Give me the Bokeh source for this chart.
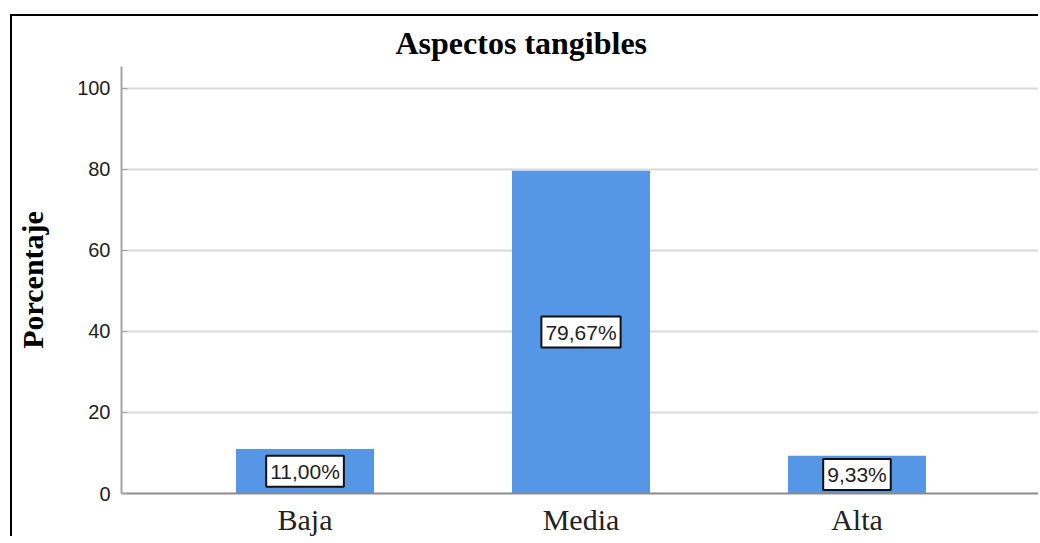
from bokeh.plotting import figure
from bokeh.models import ColumnDataSource, FactorRange, Range1d, FixedTicker
from bokeh.core.properties import value
from bokeh.embed import file_html
from bokeh.resources import INLINE

categories = ["Baja", "Media", "Alta"]
percentages = [11.00, 79.67, 9.33]
labels = ["11,00%", "79,67%", "9,33%"]
y_ticks = [0, 20, 40, 60, 80, 100]
title_text = "Aspectos tangibles"
y_label = "Porcentaje"

src = ColumnDataSource(dict(
    cat=categories,
    pct=percentages,
    mid=[v / 2 for v in percentages],
    lab=labels,
))

p = figure(
    width=1028, height=522,
    x_range=FactorRange(factors=categories, range_padding=0.11),
    y_range=Range1d(0, 105.4),
    output_backend="svg", toolbar_location=None,
    min_border_left=109, min_border_top=49, min_border_bottom=44, min_border_right=0,
    title=title_text,
)
p.styles = {"margin-left": "10px", "margin-top": "14px",
            "border-left": "2px solid black", "border-top": "2px solid black",
            "vertical-align": "top"}
p.outline_line_color = None
p.background_fill_color = "white"
p.border_fill_color = "white"

p.title.align = "left"
p.title.offset = 274
p.title.text_font = "Liberation Serif"
p.title.text_font_style = "bold"
p.title.text_font_size = "32px"
p.title.text_color = "black"
p.title.standoff = 12

p.vbar(x="cat", top="pct", width=0.5, source=src, fill_color="#5596E6", line_color=None)

p.text(
    x="cat", y="mid", text="lab", source=src,
    text_align="center", text_baseline="middle",
    text_font=value("Liberation Sans"), text_font_size="21px", text_color="#222222",
    background_fill_color="white", border_line_color="#111111", border_line_width=2,
    padding=4,
)

# grid
p.xgrid.grid_line_color = None
p.ygrid.grid_line_color = "#d9d9d9"
p.ygrid.grid_line_width = 2

# y axis
p.yaxis.ticker = FixedTicker(ticks=y_ticks)
p.yaxis.axis_line_color = "#a6a6a6"
p.yaxis.axis_line_width = 2
p.yaxis.major_tick_in = 6
p.yaxis.major_tick_out = 0
p.yaxis.major_tick_line_color = "#a6a6a6"
p.yaxis.minor_tick_line_color = None
p.yaxis.major_label_text_font = "Liberation Sans"
p.yaxis.major_label_text_font_size = "20px"
p.yaxis.major_label_text_color = "#222222"
p.yaxis.major_label_standoff = 11
p.yaxis.axis_label = y_label
p.yaxis.axis_label_text_font = "Liberation Serif"
p.yaxis.axis_label_text_font_style = "bold"
p.yaxis.axis_label_text_font_size = "30px"
p.yaxis.axis_label_text_color = "black"
p.yaxis.axis_label_standoff = 25

# x axis
p.xaxis.axis_line_color = "#8c8c8c"
p.xaxis.axis_line_width = 2
p.xaxis.major_tick_line_color = None
p.xaxis.minor_tick_line_color = None
p.xaxis.major_tick_out = 0
p.xaxis.major_tick_in = 0
p.xaxis.major_label_text_font = "Liberation Serif"
p.xaxis.major_label_text_font_size = "30px"
p.xaxis.major_label_text_color = "#222222"
p.xaxis.major_label_standoff = 9

open("out.html", "w").write(file_html(p, INLINE))
